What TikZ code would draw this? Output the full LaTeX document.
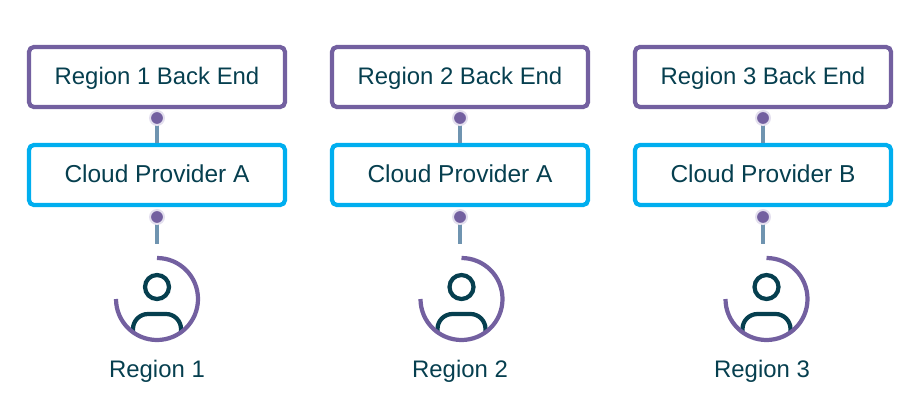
\documentclass[tikz,border=0pt]{standalone}
\usepackage{fontspec}
\setmainfont{Liberation Sans}
\definecolor{backpurple}{HTML}{7360A0}
\definecolor{haloviolet}{HTML}{E3DFEE}
\definecolor{cloudblue}{HTML}{00AEEF}
\definecolor{linkblue}{HTML}{6F94B0}
\definecolor{inkteal}{HTML}{063F4F}
\newcommand{\pxu}{*0.025cm}
\tikzset{
  regionbox/.style={draw,rounded corners=3.5pt,line width=3pt,minimum width=256\pxu,minimum height=60\pxu,text=inkteal,text height=10pt,text depth=0pt,font=\fontsize{17}{20}\selectfont,inner sep=0pt},
  backbox/.style={regionbox,draw=backpurple},
  cloudbox/.style={regionbox,draw=cloudblue,font=\fontsize{17.4}{20}\selectfont},
  linkdot/.style={circle,fill=backpurple,draw=haloviolet,line width=1.4pt,minimum size=14\pxu,inner sep=0pt},
  linkline/.style={draw=linkblue,line width=3pt},
  ringline/.style={draw=backpurple,line width=3pt},
  personline/.style={draw=inkteal,line width=3pt},
  regionlabel/.style={text=inkteal,font=\fontsize{17}{20}\selectfont,inner sep=0pt,anchor=base}
}
\begin{document}
\begin{tikzpicture}[x=0.025cm,y=-0.025cm]
\useasboundingbox (0,0) rectangle (919,420);
\foreach \i/\xbox/\xicon/\xlabel/\cloud in {1/157/157/157/A,2/460/461.5/460/A,3/763/766.5/762/B}
{
    \node[backbox] (back\i) at (\xbox,77) {Region \i{} Back End};
    \node[cloudbox] (cloud\i) at (\xbox,175) {Cloud Provider \cloud};
    \coordinate (topb\i) at (\xbox,118);
    \coordinate (topc\i) at (\xbox,217);
    \coordinate (end\i) at (\xbox,244);
    \draw[linkline] (topb\i) -- (cloud\i);
    \draw[linkline] (topc\i) -- (end\i);
    \node[linkdot] (dotb\i) at (topb\i) {};
    \node[linkdot] (dotc\i) at (topc\i) {};
    % person icon
    \node[circle,personline,draw,minimum size=24\pxu,inner sep=0pt] (head\i) at (\xicon,287) {};
    \draw[personline,rounded corners=0.375cm] (\xicon-24,333) -- (\xicon-24,314) -- (\xicon+24,314) -- (\xicon+24,333);
    \draw[ringline] (\xicon,258) arc[start angle=90,end angle=-180,x radius=41,y radius=-41];
    \node[regionlabel] (label\i) at (\xlabel,377) {Region \i};
}
\end{tikzpicture}
\end{document}
